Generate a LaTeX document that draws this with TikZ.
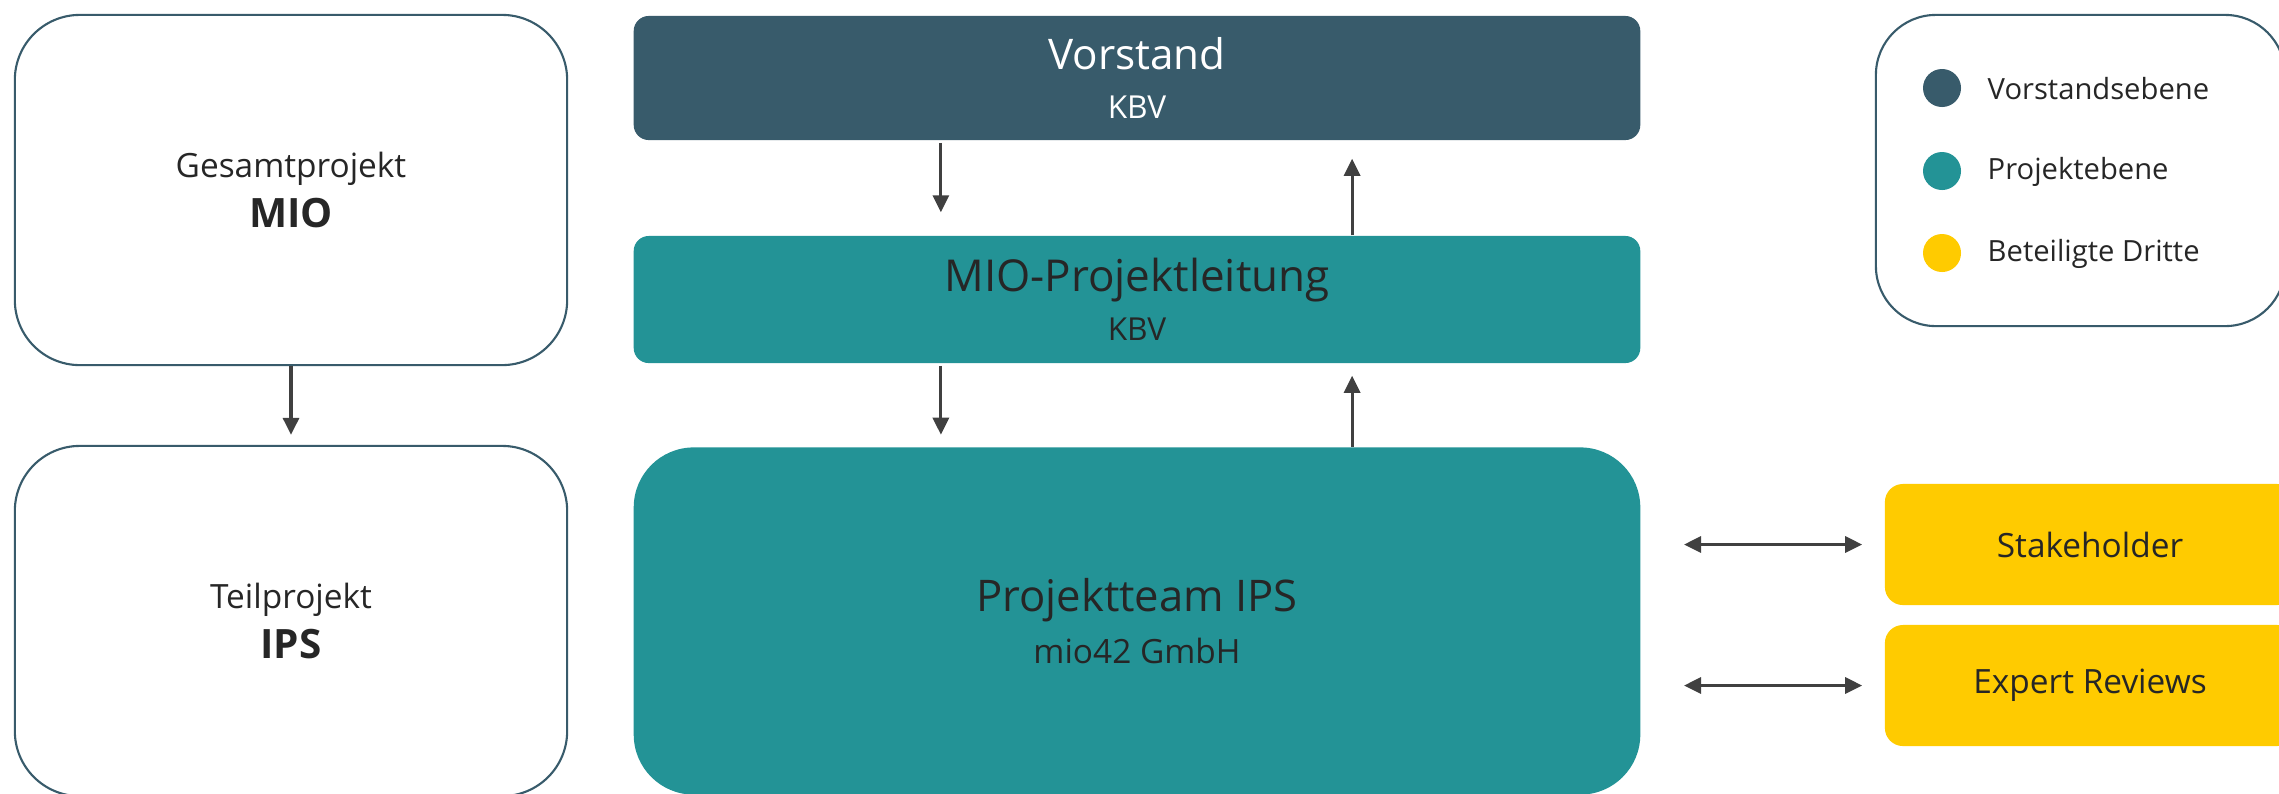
\documentclass[tikz,border=0pt]{standalone}
\usepackage{fontspec}
\setmainfont{Open Sans}
\usetikzlibrary{arrows.meta}
\definecolor{kbvdark}{HTML}{385B6B}
\definecolor{kbvteal}{HTML}{239396}
\definecolor{kbvgelb}{HTML}{FFCB00}
\definecolor{textgrau}{HTML}{262626}
\definecolor{pfeilgrau}{HTML}{404040}
\newcommand{\fs}[1]{\fontsize{#1}{14}\selectfont}

\begin{document}
\begin{tikzpicture}[x=0.01cm,y=-0.01cm,
  >={Triangle[length=0.17cm,width=0.16cm]},
  projbox/.style={draw=kbvdark,line width=0.6pt,rounded corners=0.65cm,minimum width=5.52cm,minimum height=3.5cm,align=center,text=textgrau,font=\fs{9.5}},
  ebene/.style={rounded corners=0.15cm,minimum width=10.06cm,align=center},
  dritte/.style={fill=kbvgelb,rounded corners=0.18cm,minimum width=4.1cm,minimum height=1.21cm,text=textgrau,font=\fs{9.5}},
  legdot/.style={circle,inner sep=0pt,minimum size=0.38cm},
  legtext/.style={anchor=west,text=textgrau,font=\fs{8.3},inner sep=0pt},
  pfeil/.style={draw=pfeilgrau,line width=0.9pt}]
  \useasboundingbox (0,0) rectangle (2279,793);

  \node[projbox] (mio) at (291,190) {Gesamtprojekt\\{\fs{11.5}\bfseries MIO}};
  \node[projbox] (ips) at (291,621) {Teilprojekt\\{\fs{11.5}\bfseries IPS}};

  \node[ebene,fill=kbvdark,text=white,minimum height=1.24cm,font=\fs{9}] (vorstand) at (1137,78) {{\fs{12}Vorstand}\\KBV};
  \node[ebene,fill=kbvteal,text=textgrau,minimum height=1.27cm,font=\fs{9}] (leitung) at (1137,299.5) {{\fs{12.5}MIO-Projektleitung}\\KBV};
  \node[ebene,fill=kbvteal,text=textgrau,rounded corners=0.6cm,minimum height=3.47cm,font=\fs{9.5}] (team) at (1137,621) {{\fs{12.4}Projektteam IPS}\\[1pt]mio42 GmbH};

  \node[draw=kbvdark,line width=0.6pt,rounded corners=0.6cm,minimum width=4.09cm,minimum height=3.11cm] (legende) at (2080.5,170.5) {};
  \node[legdot,fill=kbvdark] (dotV) at (1942,88) {};
  \node[legtext] (legV) at (1987,89) {Vorstandsebene};
  \node[legdot,fill=kbvteal] (dotP) at (1942,171) {};
  \node[legtext] (legP) at (1987,172) {Projektebene};
  \node[legdot,fill=kbvgelb] (dotD) at (1942,253) {};
  \node[legtext] (legD) at (1987,254) {Beteiligte Dritte};

  \node[dritte] (stake) at (2090,544.5) {Stakeholder};
  \node[dritte] (expert) at (2090,685.5) {Expert Reviews};

  \draw[pfeil,->,shorten >=0.1cm] (mio) -- (ips);
  \draw[pfeil,->,shorten <=0.02cm,shorten >=0.23cm] ([xshift=-1.96cm]vorstand.south) -- ([xshift=-1.96cm]leitung.north);
  \draw[pfeil,->,shorten >=0.18cm] ([xshift=2.15cm]leitung.north) -- ([xshift=2.15cm]vorstand.south);
  \draw[pfeil,->,shorten <=0.02cm,shorten >=0.12cm] ([xshift=-1.96cm]leitung.south) -- ([xshift=-1.96cm]team.north);
  \draw[pfeil,->,shorten >=0.12cm] ([xshift=2.15cm]team.north) -- ([xshift=2.15cm]leitung.south);
  \draw[pfeil,<->,shorten <=0.43cm,shorten >=0.22cm] (stake.west -| team.east) -- (stake.west);
  \draw[pfeil,<->,shorten <=0.43cm,shorten >=0.22cm] (expert.west -| team.east) -- (expert.west);
\end{tikzpicture}
\end{document}
